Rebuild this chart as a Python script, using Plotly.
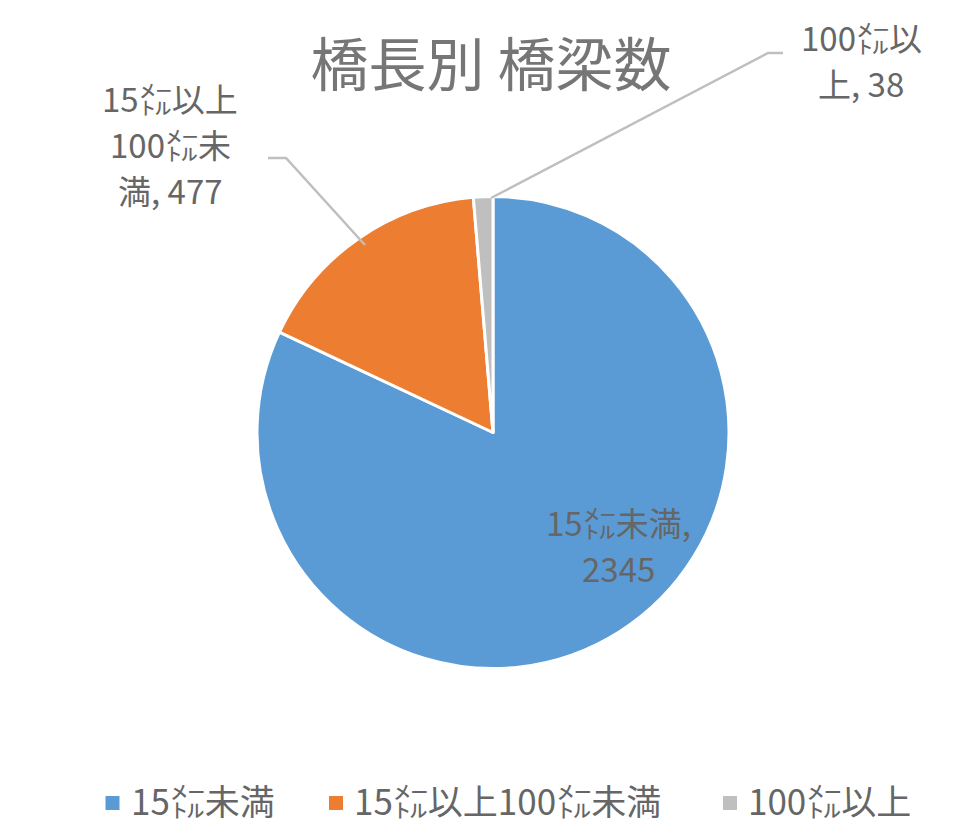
import plotly.graph_objects as go

# ---- data ----
categories = ["15㍍未満", "15㍍以上100㍍未満", "100㍍以上"]
values = [2345, 477, 38]
colors = ["#5B9BD5", "#ED7D31", "#BFBFBF"]
title_text = "橋長別 橋梁数"
# line-break positions inside each data label "name, value"
label_breaks = [[6], [5, 10], [5]]

W, H = 953, 834
FONT = "Noto Sans CJK JP"
TXT = "#666666"


def px(x):
    return x / W


def py(y):
    return 1 - y / H


def label_lines(name, value, breaks):
    s = f"{name}, {value}"
    parts, prev = [], 0
    for b in breaks:
        parts.append(s[prev:b].strip())
        prev = b
    parts.append(s[prev:].strip())
    return parts


cx, cy, r = 485, 424.5, 236

fig = go.Figure(
    go.Pie(
        labels=categories,
        values=values,
        sort=False,
        direction="clockwise",
        rotation=0,
        marker=dict(colors=colors, line=dict(color="white", width=3)),
        textinfo="none",
        hoverinfo="label+value",
        showlegend=False,
        domain=dict(x=[px(cx - r), px(cx + r)], y=[py(cy + r), py(cy - r)]),
    )
)

# data labels (one annotation per line)
label_pos = [(610, 514), (162, 90), (853, 29)]
LINE = 46
for c, v, b, (x, y0) in zip(categories, values, label_breaks, label_pos):
    for i, line in enumerate(label_lines(c, v, b)):
        fig.add_annotation(
            x=px(x), y=py(y0 + i * LINE), xref="paper", yref="paper",
            text=line, showarrow=False, align="center",
            font=dict(family=FONT, size=33, color=TXT),
            xanchor="center", yanchor="middle",
        )

# leader lines
leader = [
    [(357, 237), (278, 150), (260, 150)],
    [(483, 190), (760, 45), (775, 45)],
]
for pts in leader:
    path = "M " + " L ".join(f"{px(x)},{py(y)}" for x, y in pts)
    fig.add_shape(type="path", path=path, xref="paper", yref="paper",
                  line=dict(color="#BFBFBF", width=2.5))

# legend (drawn as annotations to match the reference spacing)
legend_sq_x = [104.5, 328, 722]
legend_y = 795
for c, col, sx in zip(categories, colors, legend_sq_x):
    fig.add_shape(type="rect", xref="paper", yref="paper",
                  x0=px(sx - 7), x1=px(sx + 7), y0=py(legend_y + 7), y1=py(legend_y - 7),
                  fillcolor=col, line=dict(width=0))
    fig.add_annotation(
        x=px(sx + 16), y=py(legend_y - 4), xref="paper", yref="paper",
        text=c, showarrow=False, xanchor="left", yanchor="middle",
        font=dict(family=FONT, size=35, color=TXT),
    )

fig.update_layout(
    width=W, height=H,
    margin=dict(l=0, r=0, t=0, b=0),
    paper_bgcolor="white",
    title=dict(text=title_text, x=px(483), y=py(58), xanchor="center", yanchor="middle",
               font=dict(family=FONT, size=58, color="#767676")),
    showlegend=False,
)

fig.write_html("out.html")
